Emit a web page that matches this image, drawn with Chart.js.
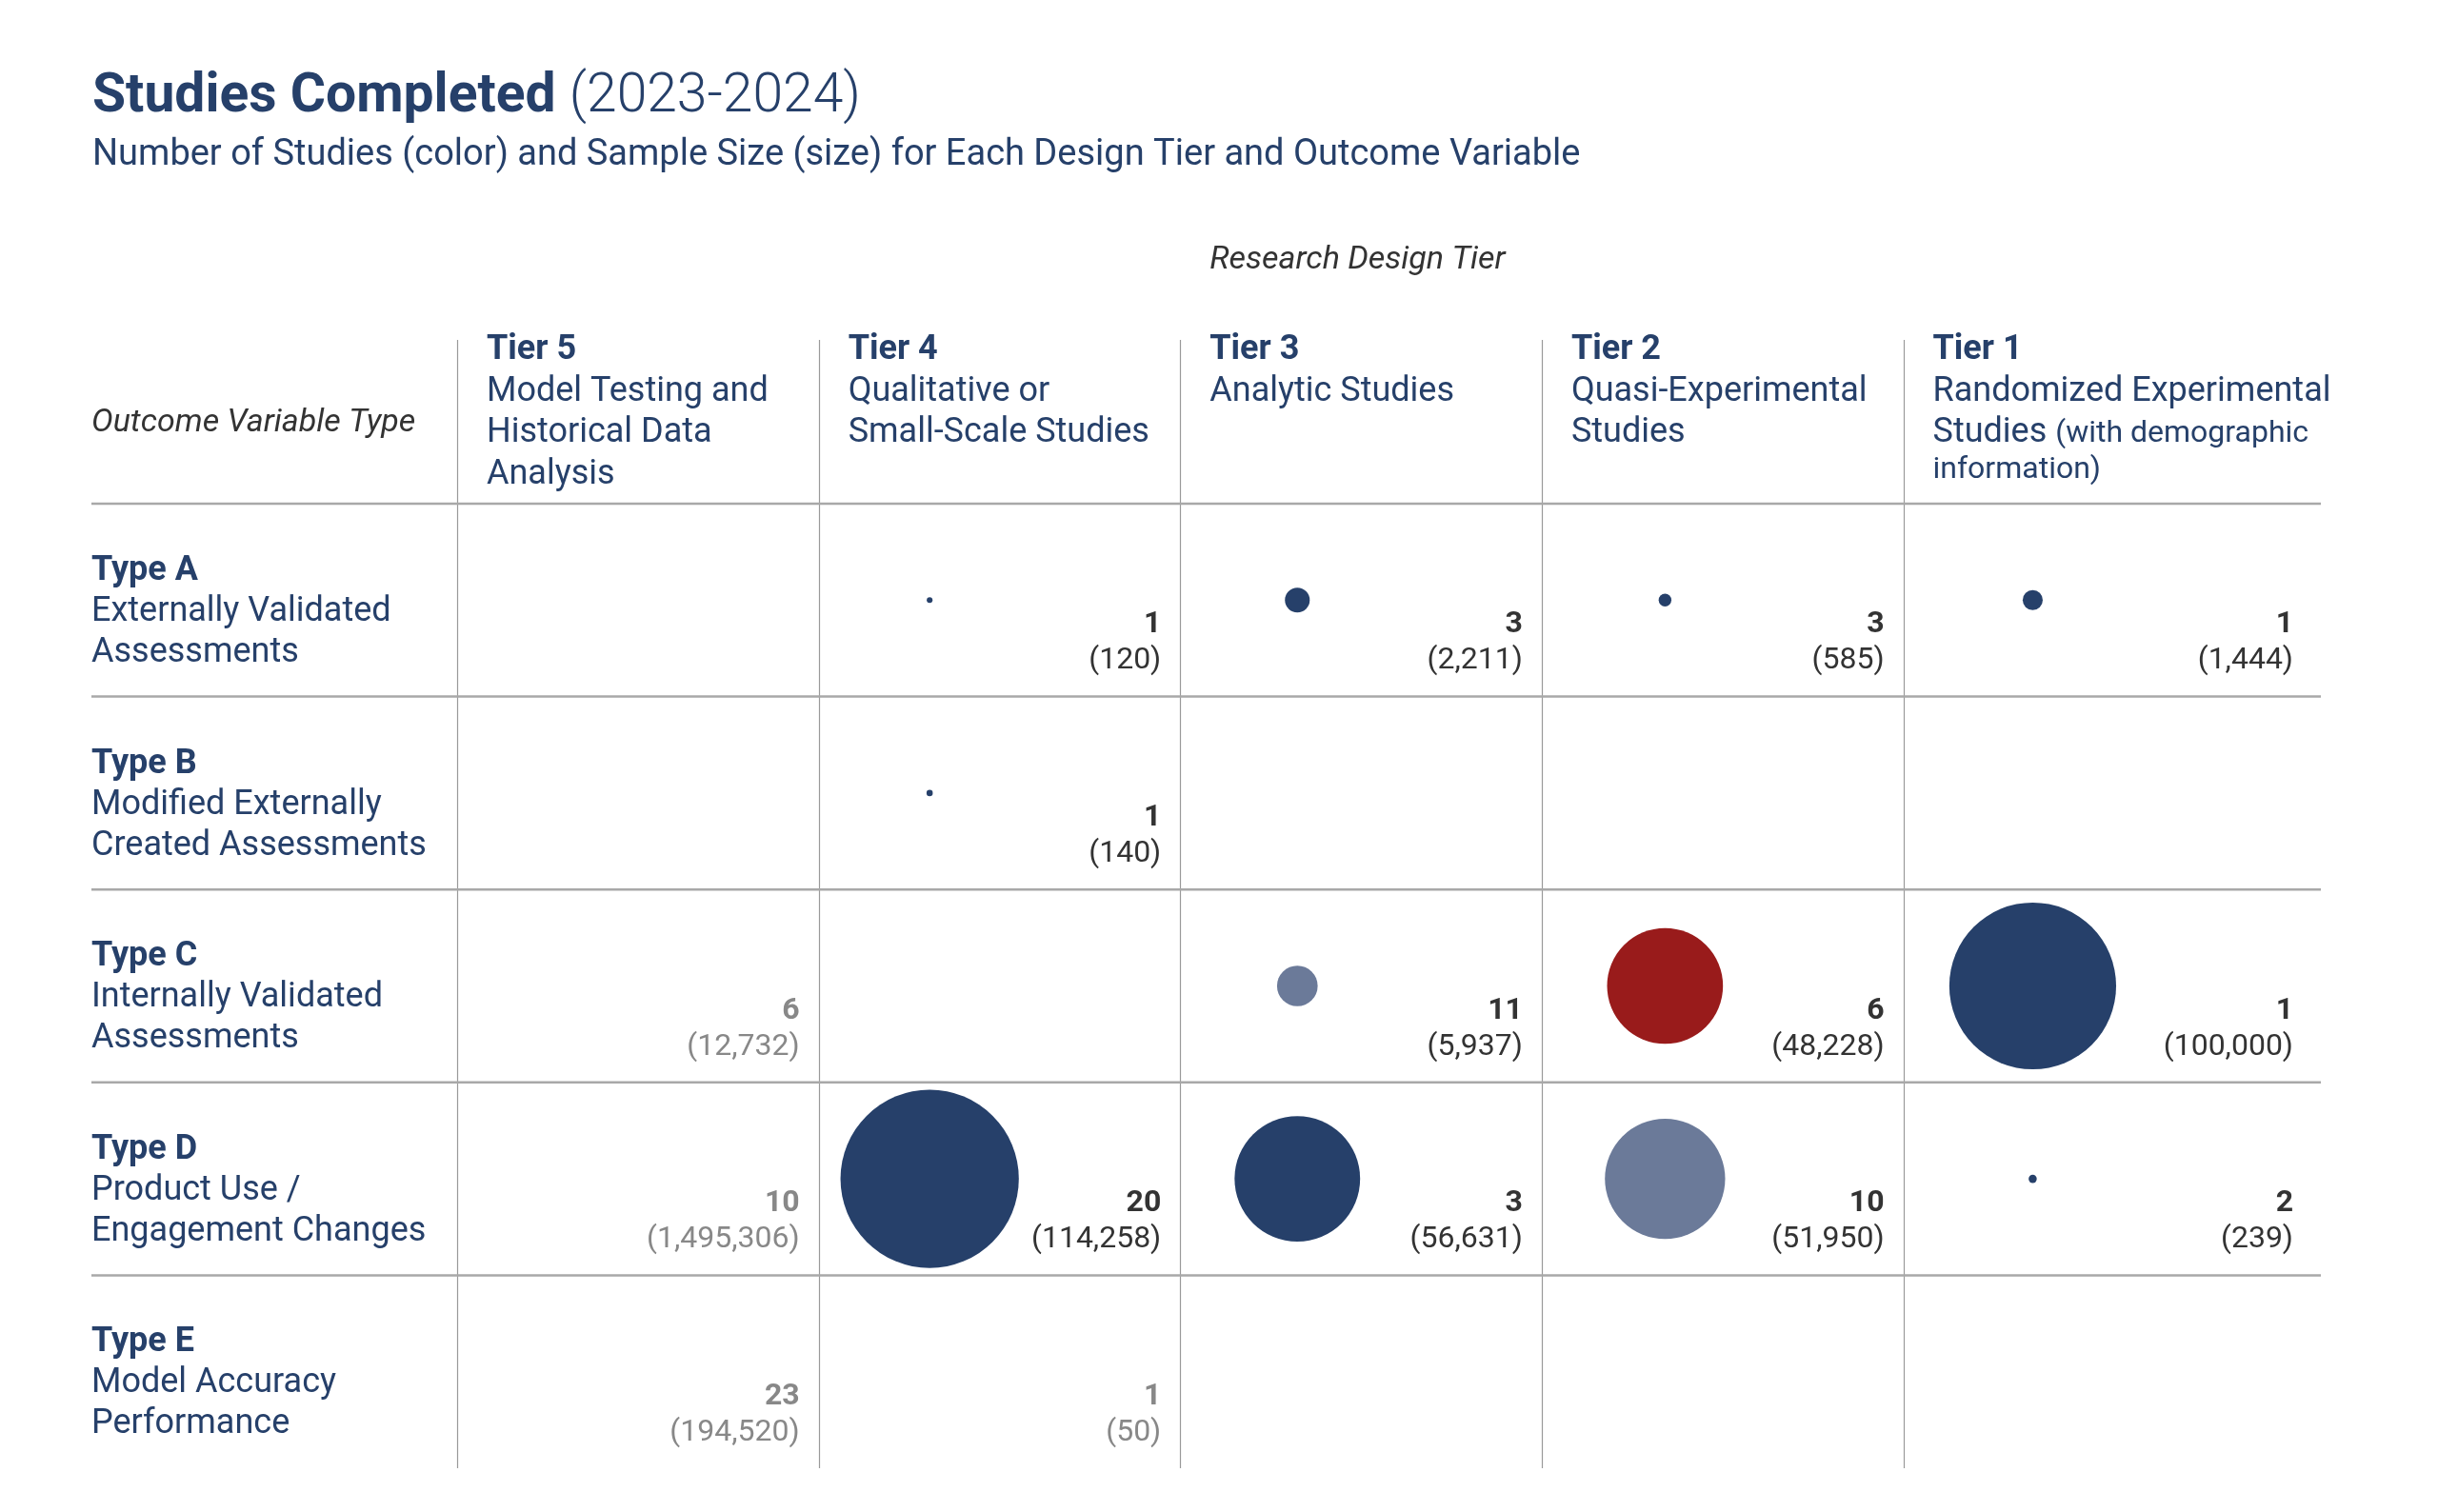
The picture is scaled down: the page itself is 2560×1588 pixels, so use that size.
<!DOCTYPE html>
<html>
<head>
<meta charset="utf-8">
<script src="https://cdn.jsdelivr.net/npm/chart.js@4.4.1/dist/chart.umd.min.js"></script>
<style>
  html, body { margin: 0; padding: 0; background: #fff; }
  #wrap { width: 2560px; height: 1588px; }
</style>
</head>
<body>
<div id="wrap"><canvas id="studies-chart"></canvas></div>
<script>
// columns (research design tier) and rows (outcome variable type)
const tiers = ['Tier 5', 'Tier 4', 'Tier 3', 'Tier 2', 'Tier 1'];
const tierNames = [
  ['Model Testing and', 'Historical Data', 'Analysis'],
  ['Qualitative or', 'Small-Scale Studies'],
  ['Analytic Studies'],
  ['Quasi-Experimental', 'Studies'],
  ['Randomized Experimental', 'Studies']
];
const tierNotes = [null, null, null, null, ['(with demographic', 'information)']];

const types = ['Type A', 'Type B', 'Type C', 'Type D', 'Type E'];
const typeNames = [
  ['Externally Validated', 'Assessments'],
  ['Modified Externally', 'Created Assessments'],
  ['Internally Validated', 'Assessments'],
  ['Product Use /', 'Engagement Changes'],
  ['Model Accuracy', 'Performance']
];

// rows = types A..E, columns = Tier 5..Tier 1
const studyCounts = [
  [null, 1, 3, 3, 1],
  [null, 1, null, null, null],
  [6, null, 11, 6, 1],
  [10, 20, 3, 10, 2],
  [23, 1, null, null, null]
];
const sampleSizes = [
  [null, 120, 2211, 585, 1444],
  [null, 140, null, null, null],
  [12732, null, 5937, 48228, 100000],
  [1495306, 114258, 56631, 51950, 239],
  [194520, 50, null, null, null]
];
// cells that get a bubble (the others are only listed in grey)
const hasBubble = [
  [false, true, true, true, true],
  [false, true, false, false, false],
  [false, false, true, true, true],
  [false, true, true, true, true],
  [false, false, false, false, false]
];

const NAVY = '#26406a';
const SLATE = '#6b7a99';
const RED = '#991b1b';
const FONT = 'Roboto, "Noto Sans", sans-serif';

// number of studies -> colour
function studyColor(n) {
  if (n >= 20) return NAVY;
  if (n >= 10) return SLATE;
  if (n >= 6) return RED;
  return NAVY;
}

// bubble area follows sample size
function radiusFor(sample) {
  return 0.277 * Math.sqrt(sample);
}

// bubbles sit left of centre in each column
const bubblePitch = 1.017;
const bubbleLead = 0.29;

const points = [];
studyCounts.forEach((row, r) => {
  row.forEach((n, c) => {
    if (n !== null && hasBubble[r][c]) {
      points.push({
        x: c * bubblePitch + bubbleLead,
        y: r + 0.5,
        r: radiusFor(sampleSizes[r][c]),
        studies: n
      });
    }
  });
});

const tablePlugin = {
  id: 'tableDecor',
  beforeDatasetsDraw(chart) {
    const { ctx, chartArea, scales: { x, y } } = chart;
    const labelLeft = 96;
    ctx.save();

    // title
    ctx.textBaseline = 'alphabetic';
    ctx.textAlign = 'left';
    ctx.fillStyle = NAVY;
    ctx.font = `bold 57px ${FONT}`;
    ctx.fillText('Studies Completed', 97, 117);
    const w = ctx.measureText('Studies Completed ').width;
    ctx.font = `300 57px ${FONT}`;
    ctx.fillText('(2023-2024)', 97 + w, 117);
    ctx.font = `38px ${FONT}`;
    ctx.fillText('Number of Studies (color) and Sample Size (size) for Each Design Tier and Outcome Variable', 97, 173);

    // axis captions
    ctx.fillStyle = '#333';
    ctx.font = `italic 34px ${FONT}`;
    ctx.fillText('Research Design Tier', x.getPixelForValue(2) + 31, 282);
    ctx.fillText('Outcome Variable Type', labelLeft, 453);

    // vertical lines
    ctx.strokeStyle = '#9a9a9a';
    ctx.lineWidth = 1.2;
    for (let c = 0; c < tiers.length; c++) {
      const px = Math.round(x.getPixelForValue(c)) + 0.5;
      ctx.beginPath();
      ctx.moveTo(px, 357);
      ctx.lineTo(px, chartArea.bottom);
      ctx.stroke();
    }
    // horizontal lines
    ctx.strokeStyle = '#a8a8a8';
    ctx.lineWidth = 2.5;
    for (let r = 0; r < types.length; r++) {
      const py = y.getPixelForValue(r);
      ctx.beginPath();
      ctx.moveTo(labelLeft, py);
      ctx.lineTo(chartArea.right, py);
      ctx.stroke();
    }

    // column headers
    tiers.forEach((t, c) => {
      const tx = x.getPixelForValue(c) + 31;
      let by = 377;
      ctx.fillStyle = NAVY;
      ctx.font = `bold 36px ${FONT}`;
      ctx.fillText(t, tx, by);
      ctx.font = `36px ${FONT}`;
      tierNames[c].forEach(line => {
        by += 43.5;
        ctx.fillText(line, tx, by);
      });
      const note = tierNotes[c];
      if (note) {
        const lw = ctx.measureText(tierNames[c][tierNames[c].length - 1] + ' ').width;
        ctx.font = `32px ${FONT}`;
        ctx.fillText(note[0], tx + lw, by);
        for (let i = 1; i < note.length; i++) {
          by += 38;
          ctx.fillText(note[i], tx, by);
        }
      }
    });

    // row labels
    types.forEach((t, r) => {
      let by = y.getPixelForValue(r) + 80;
      ctx.fillStyle = NAVY;
      ctx.font = `bold 36px ${FONT}`;
      ctx.fillText(t, labelLeft, by);
      ctx.font = `36px ${FONT}`;
      typeNames[r].forEach(line => {
        by += 43;
        ctx.fillText(line, labelLeft, by);
      });
    });

    // cell values
    ctx.textAlign = 'right';
    studyCounts.forEach((row, r) => {
      row.forEach((n, c) => {
        if (n === null) return;
        const right = c < tiers.length - 1
          ? x.getPixelForValue(c + 1) - 20
          : chartArea.right - 29;
        const mid = y.getPixelForValue(r + 0.5);
        ctx.fillStyle = hasBubble[r][c] ? '#333' : '#888';
        ctx.font = `bold 32px ${FONT}`;
        ctx.fillText(String(n), right, mid + 34);
        ctx.font = `32px ${FONT}`;
        ctx.fillText('(' + sampleSizes[r][c].toLocaleString('en-US') + ')', right, mid + 72);
      });
    });

    ctx.restore();
  }
};

new Chart(document.getElementById('studies-chart'), {
  type: 'bubble',
  data: {
    datasets: [{
      label: 'Studies',
      data: points,
      backgroundColor: points.map(p => studyColor(p.studies)),
      borderWidth: 0,
      hoverBorderWidth: 0
    }]
  },
  options: {
    responsive: true,
    maintainAspectRatio: false,
    animation: false,
    events: [],
    layout: { autoPadding: false, padding: { left: 480, right: 123, top: 529, bottom: 46 } },
    plugins: {
      legend: { display: false },
      tooltip: { enabled: false }
    },
    scales: {
      x: { type: 'linear', min: 0, max: 5.155, display: false },
      y: { type: 'linear', min: 0, max: 5, reverse: true, display: false }
    }
  },
  plugins: [tablePlugin]
});
</script>
</body>
</html>
